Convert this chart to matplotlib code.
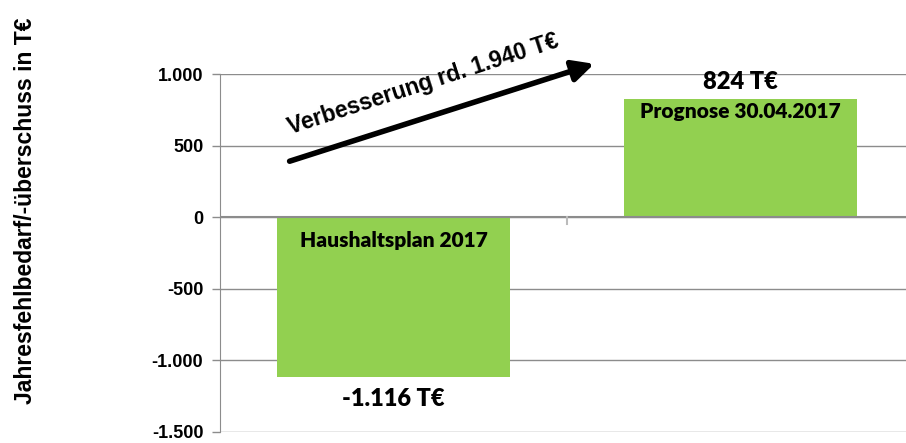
import matplotlib.pyplot as plt
from matplotlib.ticker import FuncFormatter

# Daten
kategorien = ['Haushaltsplan 2017', 'Prognose 30.04.2017']
werte = [-1116, 824]
wert_labels = ['-1.116 T€', '824 T€']
y_ticks = [-1500, -1000, -500, 0, 500, 1000]
pfeil_text = 'Verbesserung rd. 1.940 T€'

gruen = '#92D050'
grau = '#8c8c8c'

fig = plt.figure(figsize=(9.06, 4.43), dpi=100)
ax = fig.add_axes([220 / 906, 11 / 443, 694 / 906, 358 / 443])

x = list(range(len(werte)))
ax.bar(x, werte, width=0.67, color=gruen, zorder=3)

ax.set_xlim(-0.5, 1.5)
ax.set_ylim(-1500, 1000)
ax.set_yticks(y_ticks)
ax.yaxis.set_major_formatter(FuncFormatter(lambda v, p: f'{int(v):,}'.replace(',', '.')))
ax.grid(axis='y', color=grau, lw=1, zorder=0)
ax.set_xticks([])

for s in ['top', 'right', 'bottom']:
    ax.spines[s].set_visible(False)
ax.spines['left'].set_color(grau)
ax.tick_params(axis='y', length=6, color=grau, width=1, pad=6)
for lab in ax.get_yticklabels():
    lab.set_fontfamily('Liberation Sans')
    lab.set_fontweight('bold')
    lab.set_fontsize(13)

# Nulllinie und Kategorietrenner
ax.axhline(0, color=grau, lw=1.5, zorder=4)
ax.plot([0.5, 0.5], [0, -45], color='#bbbbbb', lw=1.5, zorder=4, clip_on=False)

# Beschriftungen in den Balken
ax.text(0, -95, kategorien[0], ha='center', va='top', fontsize=15,
        fontfamily='Lato', fontweight='heavy', zorder=5)
ax.text(1, werte[1] - 20, kategorien[1], ha='center', va='top', fontsize=15,
        fontfamily='Lato', fontweight='heavy', zorder=5)

# Wertbeschriftungen
ax.text(0, werte[0] - 80, wert_labels[0], ha='center', va='top', fontsize=17,
        fontfamily='Lato', fontweight='heavy')
ax.text(1, werte[1] + 40, wert_labels[1], ha='center', va='bottom', fontsize=17,
        fontfamily='Lato', fontweight='heavy')

# Pfeil
ax.annotate('', xy=(0.586, 1077), xytext=(-0.307, 385),
            arrowprops=dict(arrowstyle='-|>', color='black', lw=4, mutation_scale=32),
            annotation_clip=False, zorder=6)
ax.text(0.085, 930, pfeil_text, rotation=18, ha='center', va='center', fontsize=16.5,
        fontfamily='Liberation Sans', fontweight='bold', rotation_mode='anchor')

fig.text(26 / 906, 1 - 211 / 443, 'Jahresfehlbedarf/-überschuss in T€', rotation=90,
         ha='center', va='center', fontsize=16.5, fontfamily='Liberation Sans',
         fontweight='bold')

fig.savefig('out.png', dpi=100)
